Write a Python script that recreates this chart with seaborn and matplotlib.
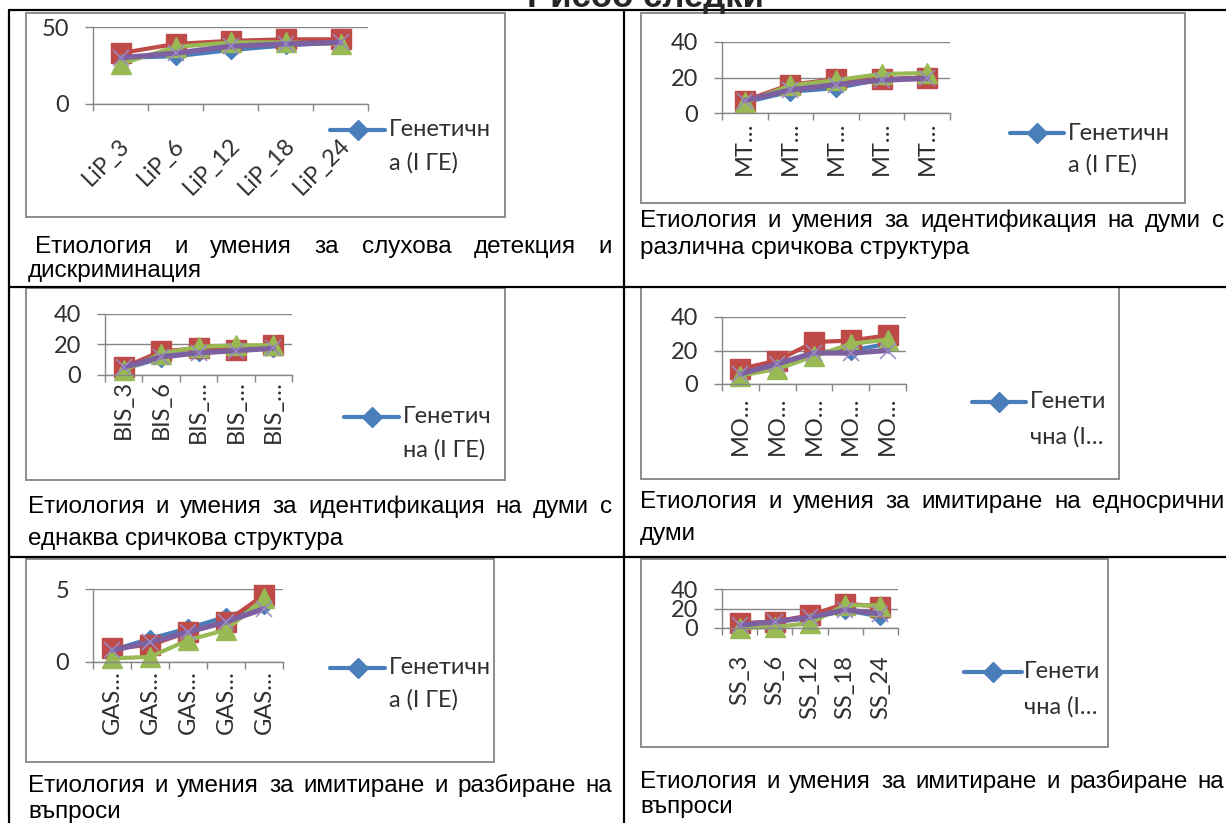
import numpy as np
import pandas as pd
import matplotlib
matplotlib.use("Agg")
import matplotlib.pyplot as plt
import seaborn as sns
from matplotlib.lines import Line2D
from matplotlib.patches import Rectangle
from matplotlib.colors import to_hex
from matplotlib.transforms import ScaledTranslation
from matplotlib import font_manager

# ---------------- data ----------------
SERIES = ["Генетична (I ГЕ)", "II ГЕ", "III ГЕ", "IV ГЕ"]

lip_cats = ["LiP_3", "LiP_6", "LiP_12", "LiP_18", "LiP_24"]
lip_blue = [30, 31, 35, 38, 40]
lip_red = [33, 39, 41, 42, 42]
lip_green = [26, 37, 40, 40, 39]
lip_purple = [30, 33, 37.5, 39, 40]

mt_cats = ["MT…", "MT…", "MT…", "MT…", "MT…"]
mt_blue = [6, 12, 14, 19, 20]
mt_red = [7, 16, 19, 19, 20]
mt_green = [6, 15.5, 18.5, 22, 22.5]
mt_purple = [7, 13, 16, 18.5, 19.5]

bis_cats = ["BIS_3", "BIS_6", "BIS_…", "BIS_…", "BIS_…"]
bis_blue = [4, 11, 15, 17, 18]
bis_red = [5, 15.5, 17.5, 16.5, 19.5]
bis_green = [3, 14, 18.5, 19.5, 19.5]
bis_purple = [5, 12, 14.5, 16, 17.5]

mo_cats = ["MO…", "MO…", "MO…", "MO…", "MO…"]
mo_blue = [6, 12, 19, 20, 24]
mo_red = [9, 14, 25, 26, 29]
mo_green = [5, 9, 16.5, 24, 26.5]
mo_purple = [6, 12, 18.5, 18.5, 20]

gas_cats = ["GAS…", "GAS…", "GAS…", "GAS…", "GAS…"]
gas_blue = [0.8, 1.6, 2.3, 3.1, 3.9]
gas_red = [0.95, 1.15, 2.05, 2.75, 4.6]
gas_green = [0.25, 0.35, 1.5, 2.2, 4.35]
gas_purple = [0.8, 1.35, 2.05, 2.75, 3.65]

ss_cats = ["SS_3", "SS_6", "SS_12", "SS_18", "SS_24"]
ss_blue = [3, 7, 10, 18, 12]
ss_red = [5, 6.5, 13, 25, 22]
ss_green = [0, 1, 5, 23.5, 23]
ss_purple = [3, 6.5, 11, 18.5, 14.5]

lip_yticks = [0, 50]
std_yticks = [0, 20, 40]
gas_yticks = [0, 5]

legend_a = ["Генетичн", "а (I ГЕ)"]
legend_b = ["Генетич", "на (I ГЕ)"]
legend_c = ["Генети", "чна (I…"]

cap1 = ["Етиология и умения за слухова детекция и", "дискриминация"]
cap2 = ["Етиология и умения за идентификация на думи с", "различна сричкова структура"]
cap3 = ["Етиология и умения за идентификация на думи с", "еднаква сричкова структура"]
cap4 = ["Етиология и умения за имитиране на едносрични", "думи"]
cap5 = ["Етиология и умения за имитиране и разбиране на", "въпроси"]
cap6 = ["Етиология и умения за имитиране и разбиране на", "въпроси"]

title_text = "Рисоо следки"

# ---------------- style ----------------
W, H, DPI = 1226, 823, 100
sns.set_theme(style="white")
names = {f.name for f in font_manager.fontManager.ttflist}
CAP_FONT = "Liberation Sans Narrow" if "Liberation Sans Narrow" in names else "Liberation Sans"
CHART_FONT = "Lato" if "Lato" in names else "Open Sans"
plt.rcParams["font.family"] = [CHART_FONT, "Noto Sans", "DejaVu Sans"]

COLORS = ["#4a7ebb", "#be4b48", "#98b954", "#7d60a0"]
STYLE = {
    "#4a7ebb": dict(marker="D", ms=9, lw=3.0, mec="#4a7ebb", mew=1),
    "#be4b48": dict(marker="s", ms=14, lw=3.0, mec="#be4b48", mew=1),
    "#98b954": dict(marker="^", ms=15, lw=3.0, mec="#98b954", mew=1),
    "#7d60a0": dict(marker="x", ms=12, lw=3.8, mec="#9a8ac4", mew=1.1),
}
GRAY = "#868686"
CHART_FS = 17
CAP_FS = 20 if CAP_FONT == "Liberation Sans Narrow" else 17.5

fig = plt.figure(figsize=(W / DPI, H / DPI), dpi=DPI)
fig.patch.set_facecolor("white")


def fx(x):
    return x / W


def fy(y):
    return 1 - y / H


def hline(y, x0, x1, lw=1.6):
    fig.add_artist(Line2D([fx(x0), fx(x1)], [fy(y), fy(y)], color="black", lw=lw))


def vline(x, y0, y1, lw=1.6):
    fig.add_artist(Line2D([fx(x), fx(x)], [fy(y0), fy(y1)], color="black", lw=lw))


# table grid
hline(10, 9, W)
hline(287, 9, W)
hline(557, 9, W)
vline(9, 10, H)
vline(624, 10, H)

fig.text(fx(645), fy(7), title_text, ha="center", va="baseline",
         fontsize=25, fontweight="bold", family=[CAP_FONT, "DejaVu Sans"])

renderer = fig.canvas.get_renderer()


def justified(line, x0, x1, y):
    words = line.split()
    texts = [fig.text(0, fy(y), w, va="baseline", ha="left", fontsize=CAP_FS,
                      family=[CAP_FONT, "DejaVu Sans"], color="black") for w in words]
    widths = [t.get_window_extent(renderer).width for t in texts]
    gap = (x1 - x0 - sum(widths)) / max(len(words) - 1, 1)
    x = x0
    for t, w in zip(texts, widths):
        t.set_x(fx(x))
        x += w + gap


charts = [
    dict(cats=lip_cats, vals=[lip_blue, lip_red, lip_green, lip_purple], yticks=lip_yticks,
         frame=(26, 13, 505, 217), plot=(93, 27, 368, 104), rot=45, lpad=38,
         leg=(330, 385, 130, 389, 163), legtxt=legend_a,
         cap=cap1, capx=(35, 612, 28), capy=(253, 277)),
    dict(cats=mt_cats, vals=[mt_blue, mt_red, mt_green, mt_purple], yticks=std_yticks,
         frame=(641, 13, 1185, 203), plot=(722, 42, 950, 113), rot=90, lpad=9,
         leg=(1010, 1064, 133, 1068, 165), legtxt=legend_a,
         cap=cap2, capx=(640, 1224, 640), capy=(227, 254)),
    dict(cats=bis_cats, vals=[bis_blue, bis_red, bis_green, bis_purple], yticks=std_yticks,
         frame=(26, 288, 505, 480), plot=(105, 314, 292, 375), rot=90, lpad=5,
         leg=(344, 399, 417, 403, 450), legtxt=legend_b,
         cap=cap3, capx=(28, 612, 28), capy=(513, 545)),
    dict(cats=mo_cats, vals=[mo_blue, mo_red, mo_green, mo_purple], yticks=std_yticks,
         frame=(641, 287, 1119, 479), plot=(722, 317, 906, 384), rot=90, lpad=13,
         leg=(972, 1026, 402, 1030, 437), legtxt=legend_c,
         cap=cap4, capx=(640, 1224, 640), capy=(508, 540)),
    dict(cats=gas_cats, vals=[gas_blue, gas_red, gas_green, gas_purple], yticks=gas_yticks,
         frame=(26, 559, 494, 762), plot=(93, 589, 283, 662), rot=90, lpad=8,
         leg=(330, 385, 668, 389, 700), legtxt=legend_a,
         cap=cap5, capx=(28, 612, 28), capy=(792, 818)),
    dict(cats=ss_cats, vals=[ss_blue, ss_red, ss_green, ss_purple], yticks=std_yticks,
         frame=(641, 559, 1108, 747), plot=(722, 589, 898, 628), rot=90, lpad=27,
         leg=(964, 1022, 672, 1024, 707), legtxt=legend_c,
         cap=cap6, capx=(640, 1224, 640), capy=(788, 813)),
]

px2pt = 72 / DPI

for ch in charts:
    x0, y0, x1, y1 = ch["frame"]
    fig.add_artist(Rectangle((fx(x0), fy(y1)), (x1 - x0) / W, (y1 - y0) / H,
                             transform=fig.transFigure, facecolor="white",
                             edgecolor="#8c8c8c", lw=1.4, zorder=0))
    px0, py0, px1, py1 = ch["plot"]
    ax = fig.add_axes([fx(px0), fy(py1), (px1 - px0) / W, (py1 - py0) / H])
    ax.set_facecolor("none")
    n = len(ch["cats"])
    df = pd.DataFrame({
        "pos": np.tile(np.arange(n), len(SERIES)),
        "value": np.concatenate([np.asarray(v, float) for v in ch["vals"]]),
        "series": np.repeat(SERIES, n),
    })
    sns.lineplot(data=df, x="pos", y="value", hue="series", hue_order=SERIES,
                 palette=dict(zip(SERIES, COLORS)), style="series", style_order=SERIES,
                 markers=dict(zip(SERIES, ["D", "s", "^", "X"])), dashes=False,
                 legend=False, errorbar=None, sort=False, ax=ax)
    for line in ax.lines:
        st = STYLE.get(to_hex(line.get_color()))
        if st is None:
            continue
        line.set_marker(st["marker"])
        line.set_markersize(st["ms"])
        line.set_linewidth(st["lw"])
        line.set_markeredgecolor(st["mec"])
        line.set_markerfacecolor(line.get_color())
        line.set_markeredgewidth(st["mew"])
        line.set_clip_on(False)
    ax.set_xlim(-0.5, n - 0.5)
    ax.set_ylim(ch["yticks"][0], ch["yticks"][-1])
    ax.set_yticks(ch["yticks"])
    ax.set_xticks(np.arange(n))
    ax.set_xticks(np.arange(-0.5, n, 1), minor=True)
    ax.set_xlabel("")
    ax.set_ylabel("")
    for s in ["top", "right"]:
        ax.spines[s].set_visible(False)
    for s in ["left", "bottom"]:
        ax.spines[s].set_color(GRAY)
        ax.spines[s].set_linewidth(1)
    ax.yaxis.grid(True, color=GRAY, lw=1)
    ax.xaxis.grid(False)
    ax.set_axisbelow(True)
    ax.tick_params(axis="y", length=8 * px2pt, width=1, color=GRAY, pad=16 * px2pt,
                   labelsize=CHART_FS, labelcolor="#303030", direction="out", left=True)
    ax.tick_params(axis="x", which="major", length=0, pad=ch["lpad"] * px2pt,
                   labelsize=CHART_FS, labelcolor="#303030")
    ax.tick_params(axis="x", which="minor", length=7 * px2pt, width=1, color=GRAY,
                   direction="out", bottom=True)
    if ch["rot"] == 45:
        ax.set_xticklabels(ch["cats"], rotation=45, ha="right", va="center",
                           rotation_mode="anchor")
        off = ScaledTranslation(6 / DPI, 0, fig.dpi_scale_trans)
        for lab in ax.get_xticklabels():
            lab.set_transform(lab.get_transform() + off)
    else:
        ax.set_xticklabels(ch["cats"], rotation=90, ha="center", va="top")

    # legend (only the first entry is visible in the source)
    lx0, lx1, ly, tx, ly2 = ch["leg"]
    fig.add_artist(Line2D([fx(lx0), fx((lx0 + lx1) / 2), fx(lx1)], [fy(ly)] * 3,
                          transform=fig.transFigure, color=COLORS[0], lw=3.0,
                          marker="D", markevery=[1], ms=10, mec=COLORS[0]))
    fig.text(fx(tx), fy(ly), ch["legtxt"][0], va="center", ha="left",
             fontsize=CHART_FS, color="#303030")
    fig.text(fx(tx), fy(ly2), ch["legtxt"][1], va="center", ha="left",
             fontsize=CHART_FS, color="#303030")

    # caption
    cx0, cx1, cx2 = ch["capx"]
    cy1, cy2 = ch["capy"]
    justified(ch["cap"][0], cx0, cx1, cy1)
    fig.text(fx(cx2), fy(cy2), ch["cap"][1], va="baseline", ha="left", fontsize=CAP_FS,
             family=[CAP_FONT, "DejaVu Sans"], color="black")

fig.savefig("out.png", dpi=DPI, facecolor="white")
